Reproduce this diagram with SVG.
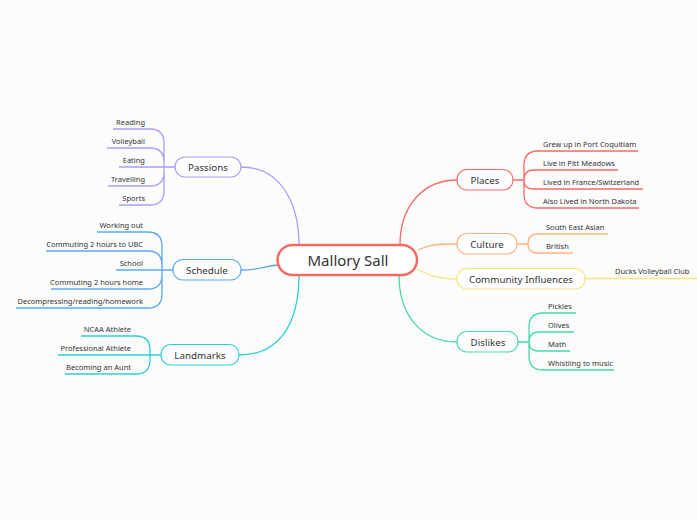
<svg xmlns="http://www.w3.org/2000/svg" width="697" height="520" viewBox="0 0 697 520">
<style>
.bg{fill:#fcfcfc}
.ln{fill:none;stroke-width:1.3}
.nd{fill:#ffffff;stroke-width:1.2}
.t{font-family:"Noto Sans","Liberation Sans",sans-serif;fill:#333333}
.ct{font-size:7.5px}
.nt{font-size:9.8px;text-anchor:middle}
.pu{stroke:#a79ef8}.bl{stroke:#5aaaf3}.cy{stroke:#2ccfd9}.rd{stroke:#f66a63}.or{stroke:#ffb07d}.ye{stroke:#f8e47e}.gr{stroke:#44d9a7}
</style>
<rect class="bg" width="697" height="520"/>
<g id="connectors">
<path class="ln pu" d="M241,167 C282,167 299,205 299,245"/>
<path class="ln bl" d="M241,270 C260,270 264,266 278,265"/>
<path class="ln cy" d="M239,355 C282,355 299,320 299,275"/>
<path class="ln rd" d="M400,245 C400,205 424,180 457,180"/>
<path class="ln or" d="M418,250 C430,244 440,244 457,244"/>
<path class="ln ye" d="M417,269 C430,276 440,279 457,279"/>
<path class="ln gr" d="M399,275 C399,318 424,342 457,342"/>
<path class="ln pu" d="M175,167H164V143Q164,129 150,129H113 M164,167V162Q164,148 150,148H107 M175,167H119 M164,167V172Q164,186 150,186H108 M164,167V191Q164,205 150,205H119"/>
<path class="ln bl" d="M173,270H162V246Q162,232 148,232H97 M162,270V265Q162,251 148,251H46 M173,270H116 M162,270V275Q162,289 148,289H51 M162,270V294Q162,308 148,308H16"/>
<path class="ln cy" d="M161,355H150V350Q150,336 136,336H81 M161,355H58 M150,355V360Q150,374 136,374H65"/>
<path class="ln rd" d="M513,180H524V165Q524,151 538,151H638 M524,180Q524,170 534,170H618 M524,180Q524,189 533,189H643 M524,180V194Q524,208 538,208H639"/>
<path class="ln or" d="M517,244H528Q528,234 538,234H608 M528,244Q528,253 537,253H573"/>
<path class="ln ye" d="M585,278.5H697"/>
<path class="ln gr" d="M518,342H529V327Q529,313 543,313H576 M529,342Q529,332 539,332H574 M529,342Q529,351 538,351H570 M529,342V356Q529,370 543,370H614"/>
</g>
<g id="central">
<rect x="277.5" y="245" width="139.5" height="30" rx="15" fill="#ffffff" stroke="#f66a63" stroke-width="2.5"/>
<text class="t" x="348" y="265.5" font-size="15" text-anchor="middle">Mallory Sall</text>
</g>
<g id="passions">
<rect class="nd pu" x="175" y="157" width="66" height="20" rx="10"/>
<text class="t nt" x="208" y="170.5">Passions</text>
<text class="t ct" x="145" y="125" text-anchor="end">Reading</text>
<text class="t ct" x="145" y="144" text-anchor="end">Volleyball</text>
<text class="t ct" x="145" y="163" text-anchor="end">Eating</text>
<text class="t ct" x="145" y="182" text-anchor="end">Travelling</text>
<text class="t ct" x="145" y="201" text-anchor="end">Sports</text>
</g>
<g id="schedule">
<rect class="nd bl" x="173" y="259.5" width="68" height="20.5" rx="10"/>
<text class="t nt" x="207" y="273.5">Schedule</text>
<text class="t ct" x="143" y="228" text-anchor="end">Working out</text>
<text class="t ct" x="143" y="247" text-anchor="end">Commuting 2 hours to UBC</text>
<text class="t ct" x="143" y="266" text-anchor="end">School</text>
<text class="t ct" x="143" y="285" text-anchor="end">Commuting 2 hours home</text>
<text class="t ct" x="143" y="304" text-anchor="end">Decompressing/reading/homework</text>
</g>
<g id="landmarks">
<rect class="nd cy" x="161" y="344.5" width="78" height="20.5" rx="10"/>
<text class="t nt" x="200" y="358.5">Landmarks</text>
<text class="t ct" x="131" y="332" text-anchor="end">NCAA Athlete</text>
<text class="t ct" x="131" y="351" text-anchor="end">Professional Athlete</text>
<text class="t ct" x="131" y="370" text-anchor="end">Becoming an Aunt</text>
</g>
<g id="places">
<rect class="nd rd" x="457" y="169.5" width="56" height="20.5" rx="10"/>
<text class="t nt" x="485" y="183.5">Places</text>
<text class="t ct" x="543" y="147">Grew up in Port Coquitlam</text>
<text class="t ct" x="543" y="166">Live in Pitt Meadows</text>
<text class="t ct" x="543" y="185">Lived in France/Switzerland</text>
<text class="t ct" x="543" y="204">Also Lived in North Dakota</text>
</g>
<g id="culture">
<rect class="nd or" x="457" y="233.5" width="60" height="20.5" rx="10"/>
<text class="t nt" x="487" y="247.5">Culture</text>
<text class="t ct" x="546" y="230">South East Asian</text>
<text class="t ct" x="546" y="249">British</text>
</g>
<g id="community">
<rect class="nd ye" x="457" y="268.5" width="128" height="20.5" rx="10"/>
<text class="t nt" x="521" y="282.5">Community Influences</text>
<text class="t ct" x="615" y="274">Ducks Volleyball Club</text>
</g>
<g id="dislikes">
<rect class="nd gr" x="457" y="331.5" width="61" height="20.5" rx="10"/>
<text class="t nt" x="488" y="345.5">Dislikes</text>
<text class="t ct" x="548" y="309">Pickles</text>
<text class="t ct" x="548" y="328">Olives</text>
<text class="t ct" x="548" y="347">Math</text>
<text class="t ct" x="548" y="366">Whistling to music</text>
</g>
</svg>
